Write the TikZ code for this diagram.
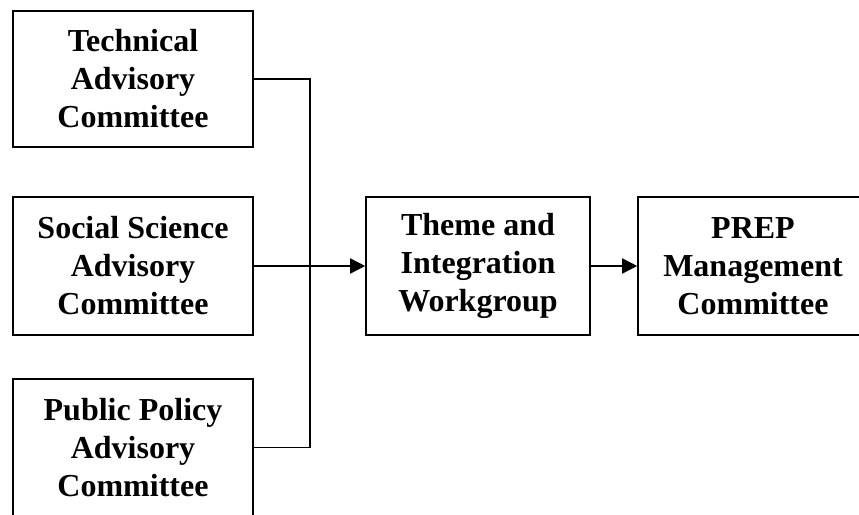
\documentclass[tikz,border=0pt]{standalone}
\usepackage{fontspec}
\setmainfont{Liberation Serif}
\usetikzlibrary{arrows.meta}

\tikzset{
  box/.style={draw, line width=1.6pt, align=center, inner sep=0pt,
    font=\fontsize{32}{38}\selectfont\bfseries},
  arr/.style={-{Triangle[length=15pt,width=15pt]}}
}

\begin{document}
\begin{tikzpicture}[x=1pt, y=-1pt, line width=1.6pt]
    \clip (0,0) rectangle (859,514);
    \node[box, minimum width=240pt, minimum height=136pt] (tech) at (133,79) {Technical\\Advisory\\Committee};
    \node[box, minimum width=240pt, minimum height=138pt] (soc) at (133,266) {Social Science\\Advisory\\Committee};
    \node[box, minimum width=240pt, minimum height=137pt] (pub) at (133,447.5) {Public Policy\\Advisory\\Committee};
    \node[box, minimum width=224pt, minimum height=138pt] (theme) at (478,266) {Theme and\\Integration\\Workgroup};
    \node[box, minimum width=230pt, minimum height=138pt] (prep) at (753,266) {PREP\\Management\\Committee};
    % vertical bus joining the three committees
    \coordinate (bus) at (310,266);
    \draw (tech.east) -| (bus) |- (pub.east);
    \draw[arr] (soc.east) -- (theme.west);
    \draw[arr] (theme.east) -- (prep.west);
\end{tikzpicture}
\end{document}
